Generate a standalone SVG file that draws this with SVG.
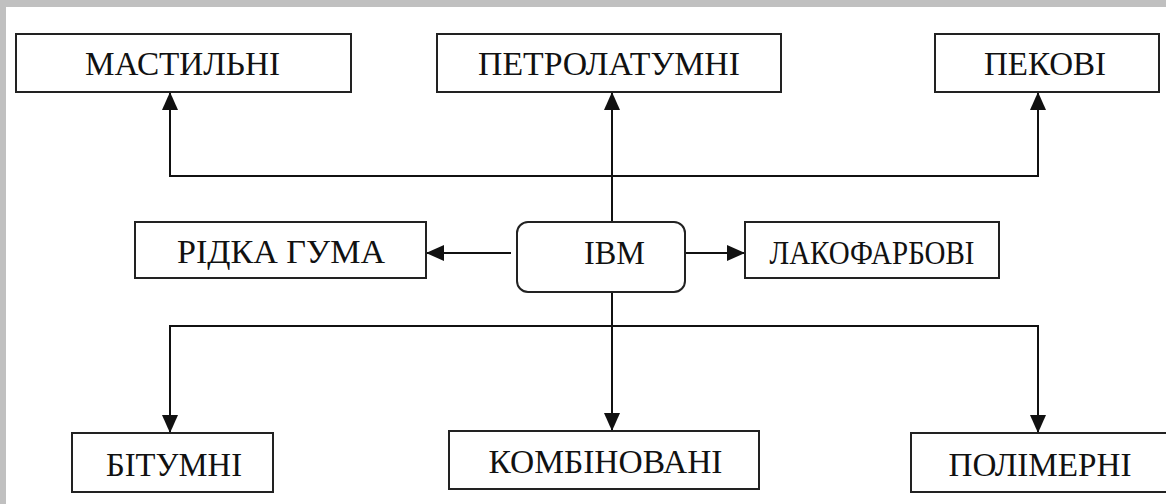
<svg xmlns="http://www.w3.org/2000/svg" width="1166" height="504" viewBox="0 0 1166 504">
  <defs>
    <marker id="arr" markerUnits="userSpaceOnUse" markerWidth="18" markerHeight="16" refX="18" refY="8" orient="auto">
      <path d="M0,0 L18,8 L0,16 z" fill="#111"/>
    </marker>
    <style>
      .box { fill: #fff; stroke: #222; stroke-width: 2; }
      .lbl { font-family: "Liberation Serif", "Times New Roman", serif; font-size: 33px; fill: #111; text-anchor: middle; }
      .con { fill: none; stroke: #111; stroke-width: 2; }
    </style>
  </defs>
  <rect x="0" y="0" width="1166" height="504" fill="#c0c0c0"/>
  <rect x="6" y="7" width="1160" height="497" fill="#fff"/>

  <g id="connectors">
    <path class="con" d="M612,222 V92" marker-end="url(#arr)"/>
    <path class="con" d="M612,176 H170 V92" marker-end="url(#arr)"/>
    <path class="con" d="M612,176 H1038 V92" marker-end="url(#arr)"/>
    <path class="con" d="M511,253 H426" marker-end="url(#arr)"/>
    <path class="con" d="M685,253 H745" marker-end="url(#arr)"/>
    <path class="con" d="M612,292 V431" marker-end="url(#arr)"/>
    <path class="con" d="M612,326 H170 V433" marker-end="url(#arr)"/>
    <path class="con" d="M612,326 H1038 V433" marker-end="url(#arr)"/>
  </g>

  <g id="mastylni">
    <rect class="box" x="16" y="34" width="335" height="58"/>
    <text class="lbl" x="182.5" y="75" textLength="195" lengthAdjust="spacingAndGlyphs">МАСТИЛЬНІ</text>
  </g>
  <g id="petrolatumni">
    <rect class="box" x="437" y="34" width="344" height="58"/>
    <text class="lbl" x="609" y="75" textLength="262" lengthAdjust="spacingAndGlyphs">ПЕТРОЛАТУМНІ</text>
  </g>
  <g id="pekovi">
    <rect class="box" x="935" y="34" width="224" height="58"/>
    <text class="lbl" x="1045" y="75" textLength="122" lengthAdjust="spacingAndGlyphs">ПЕКОВІ</text>
  </g>
  <g id="ridka-guma">
    <rect class="box" x="135" y="222" width="291" height="56"/>
    <text class="lbl" x="281" y="263" textLength="208" lengthAdjust="spacingAndGlyphs">РІДКА ГУМА</text>
  </g>
  <g id="ibm">
    <rect class="box" x="517" y="222" width="168" height="70" rx="11" ry="11"/>
    <text class="lbl" x="614.5" y="264" textLength="61" lengthAdjust="spacingAndGlyphs">ІВМ</text>
  </g>
  <g id="lakofarbovi">
    <rect class="box" x="745" y="222" width="254" height="56"/>
    <text class="lbl" x="872" y="264" textLength="205" lengthAdjust="spacingAndGlyphs">ЛАКОФАРБОВІ</text>
  </g>
  <g id="bitumni">
    <rect class="box" x="72" y="433" width="201" height="59"/>
    <text class="lbl" x="174" y="476" textLength="136" lengthAdjust="spacingAndGlyphs">БІТУМНІ</text>
  </g>
  <g id="kombinovani">
    <rect class="box" x="449" y="431" width="310" height="58"/>
    <text class="lbl" x="605.5" y="473" textLength="234" lengthAdjust="spacingAndGlyphs">КОМБІНОВАНІ</text>
  </g>
  <g id="polimerni">
    <rect class="box" x="911" y="433" width="262" height="59"/>
    <text class="lbl" x="1040" y="476" textLength="183" lengthAdjust="spacingAndGlyphs">ПОЛІМЕРНІ</text>
  </g>
</svg>
